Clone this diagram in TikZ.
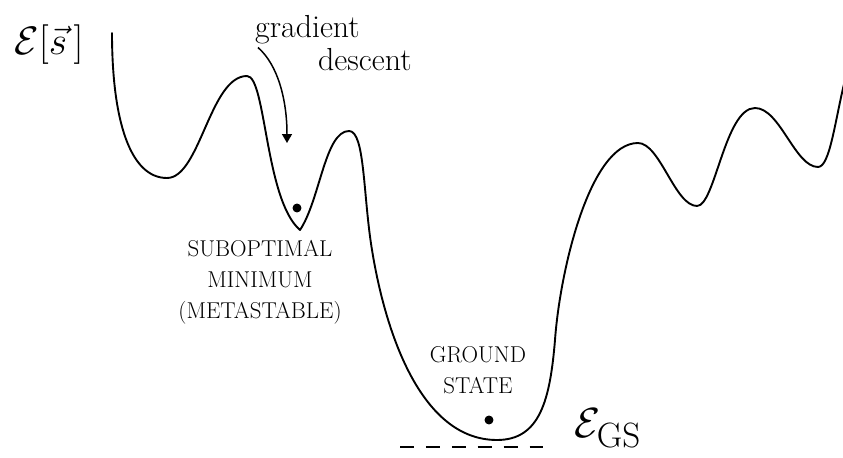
\documentclass[tikz,border=0pt]{standalone}
\usepackage{graphicx}
\usepackage{tikz}
\usetikzlibrary{arrows.meta}
\tikzset{curve/.style={line width=1.9pt,line join=round,line cap=round},lbl/.style={align=center,inner sep=0pt,font=\fontsize{23}{31}\selectfont},hand/.style={inner sep=0pt,font=\fontsize{32}{30}\selectfont},ball/.style={circle,fill,inner sep=0pt,minimum size=9pt},line/.style={-{Triangle[length=9pt,width=10pt]},line width=1.5pt}}

\begin{document}
\begin{tikzpicture}[x=1bp,y=-1bp]
\useasboundingbox (0,0) rectangle (843,458);
\node[hand] (energy) at (49,45) {\scalebox{1.6}{$\mathcal{E}[\vec{s}\,]$}};
\node[hand, anchor=west] (grad) at (255,30) {gradient};
\node[hand, anchor=west] (desc) at (318,60) {descent};
\node[lbl] (sub) at (260,282) {SUBOPTIMAL\\MINIMUM\\(METASTABLE)};
\node[lbl] (gs) at (478,370) {GROUND\\STATE};
\node[hand] (egs) at (608,428) {\scalebox{1.7}{$\mathcal{E}_{\mathrm{GS}}$}};
\node[ball] (m1) at (297,208) {};
\node[ball] (m0) at (489,420) {};
\coordinate (tip) at (287,143);
\coordinate (gl) at (400,447);
\coordinate (gr) at (550,447);
% energy landscape
\draw[curve] (112,33) .. controls (112,120) and (130,178) .. (167,178)
  .. controls (200,178) and (210,76) .. (247,76)
  .. controls (266,76) and (265,200) .. (300,230)
  .. controls (320,200) and (325,131) .. (349,131)
  .. controls (365,131) and (363,195) .. (372,250)
  .. controls (385,330) and (420,440) .. (497,440)
  .. controls (540,440) and (550,400) .. (555,340)
  .. controls (560,270) and (590,143) .. (638,143)
  .. controls (660,143) and (675,206) .. (697,206)
  .. controls (715,206) and (725,108) .. (755,108)
  .. controls (780,108) and (795,167) .. (818,167)
  .. controls (830,167) and (835,120) .. (845,80);
\draw[line] ([xshift=3pt,yshift=-3pt]grad.south west) .. controls (278,65) and (287,100) .. (tip);
\draw[line width=2pt, dash pattern=on 14pt off 12pt] (gl) -- (gr);
\end{tikzpicture}
\end{document}
